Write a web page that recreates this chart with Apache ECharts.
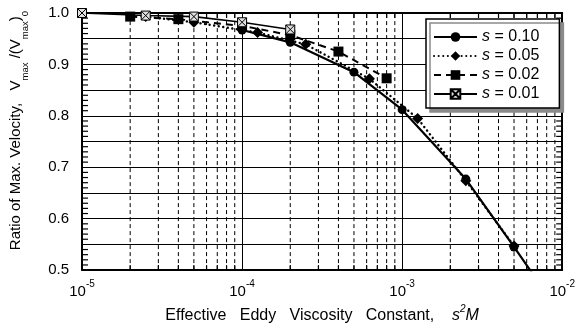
<!DOCTYPE html>
<html>
<head>
<meta charset="utf-8">
<script src="https://cdn.jsdelivr.net/npm/echarts@6/dist/echarts.min.js"></script>
<style>
  html, body { margin: 0; padding: 0; background: #fff; }
  #chart { width: 578px; height: 329px; }
</style>
</head>
<body>
<div id="chart"></div>
<script>
// Ratio of maximum velocity vs. effective eddy viscosity constant s^2 M
const seriesNames = ['0.10', '0.05', '0.02', '0.01'];

// s = 0.10
const xS010 = [1e-4, 2e-4, 5e-4, 1e-3, 2.5e-3, 5e-3, 1e-2];
const yS010 = [0.967, 0.943, 0.885, 0.812, 0.677, 0.545, 0.41];
// s = 0.05
const xS005 = [2.5e-5, 5e-5, 1.25e-4, 2.5e-4, 6.25e-4, 1.25e-3, 2.5e-3, 5e-3];
const yS005 = [0.993, 0.982, 0.962, 0.939, 0.872, 0.795, 0.674, 0.547];
// s = 0.02
const xS002 = [2e-5, 4e-5, 1e-4, 2e-4, 4e-4, 8e-4];
const yS002 = [0.993, 0.988, 0.975, 0.957, 0.925, 0.873];
// s = 0.01
const xS001 = [1e-5, 2.5e-5, 5e-5, 1e-4, 2e-4];
const yS001 = [1.0, 0.995, 0.993, 0.982, 0.968];

// axis ranges
const xMin = 1e-5, xMax = 1e-2;
const yMin = 0.5, yMax = 1.0, yStep = 0.05;

const pairs = (xs, ys) => xs.map((x, i) => [x, ys[i]]);

// dashed vertical grid lines at 2..9 within each decade
const xMinorGrid = [];
for (let d = -5; d < -2; d++) {
  for (let k = 2; k <= 9; k++) xMinorGrid.push(k * Math.pow(10, d));
}
// small y ticks every 0.01 between the 0.05 grid lines
const yMinorTicks = [];
for (let i = 1; i < 50; i++) {
  if (i % 5 !== 0) yMinorTicks.push(+(yMin + i * 0.01).toFixed(2));
}

const boxX = 'path://M0,0H10V10H0ZM0,0L10,10M10,0L0,10';
const font = 'Liberation Sans, Arial, sans-serif';

function seg(x1, y1, x2, y2, dash) {
  const style = { stroke: '#000', fill: null, lineWidth: 1 };
  if (dash) style.lineDash = dash;
  return { type: 'line', shape: { x1: x1, y1: y1, x2: x2, y2: y2 }, style: style };
}
// solid tick drawn as a thin filled bar
function bar(x, y, w, h) {
  return { type: 'rect', shape: { x: x, y: y, width: w, height: h }, style: { fill: '#000' } };
}

const chart = echarts.init(document.getElementById('chart'), null, { renderer: 'canvas' });

chart.setOption({
  animation: false,
  backgroundColor: '#fff',
  grid: { left: 81, right: 13, top: 13, bottom: 58, show: false },
  legend: {
    data: seriesNames,
    orient: 'vertical',
    left: 426,
    top: 19,
    itemWidth: 43,
    itemHeight: 12,
    itemGap: 3,
    padding: [10, 20, 6, 7],
    backgroundColor: '#fff',
    borderColor: '#000',
    borderWidth: 1.5,
    borderRadius: 0,
    shadowColor: '#8a8a8a',
    shadowOffsetX: 4,
    shadowOffsetY: 4,
    shadowBlur: 0,
    formatter: name => '{i|s}{t| = ' + name + '}',
    textStyle: {
      fontFamily: font,
      fontSize: 16,
      lineHeight: 15,
      color: '#000',
      rich: {
        i: { fontFamily: font, fontSize: 16, fontStyle: 'italic', color: '#000', lineHeight: 15 },
        t: { fontFamily: font, fontSize: 16, color: '#000', lineHeight: 15 }
      }
    }
  },
  xAxis: [
    {
      type: 'log',
      logBase: 10,
      min: xMin,
      max: xMax,
      position: 'bottom',
      axisLine: { show: true, lineStyle: { color: '#000', width: 2 } },
      axisTick: { show: false },
      splitLine: { show: true, lineStyle: { color: '#000', width: 1 } },
      axisLabel: {
        margin: 9,
        formatter: v => '{b|10}{s|' + Math.round(Math.log10(v)) + '}',
        rich: {
          b: { fontFamily: font, fontSize: 15, color: '#000', lineHeight: 20, verticalAlign: 'bottom' },
          s: { fontFamily: font, fontSize: 10, color: '#000', lineHeight: 20, verticalAlign: 'top' }
        }
      },
      name: '{t|Effective   Eddy   Viscosity   Constant,    }{i|s}{sup|2}{i|M}',
      nameLocation: 'middle',
      nameGap: 27,
      nameTextStyle: {
        rich: {
          t: { fontFamily: font, fontSize: 16, color: '#000', lineHeight: 20, verticalAlign: 'bottom' },
          i: { fontFamily: font, fontSize: 16, fontStyle: 'italic', color: '#000', lineHeight: 20, verticalAlign: 'bottom' },
          sup: { fontFamily: font, fontSize: 10, fontStyle: 'italic', color: '#000', lineHeight: 20, verticalAlign: 'top' }
        }
      }
    },
    {
      type: 'log',
      logBase: 10,
      min: xMin,
      max: xMax,
      position: 'top',
      axisLine: { show: true, lineStyle: { color: '#000', width: 2 } },
      axisTick: { show: false },
      axisLabel: { show: false },
      splitLine: { show: false }
    }
  ],
  yAxis: [
    {
      type: 'value',
      min: yMin,
      max: yMax,
      interval: yStep,
      position: 'left',
      axisLine: { show: true, lineStyle: { color: '#000', width: 2 } },
      axisTick: { show: false },
      splitLine: { show: true, lineStyle: { color: '#000', width: 1 } },
      axisLabel: {
        margin: 13,
        fontFamily: font,
        fontSize: 15,
        color: '#000',
        formatter: v => Math.abs(v * 10 - Math.round(v * 10)) < 1e-6 ? v.toFixed(1) : ''
      },
      name: '{t|Ratio of Max. Velocity,   V}{sub|max}{t| /(V}{sub|max}{t|)}{sub|0}',
      nameLocation: 'middle',
      nameRotate: 90,
      nameGap: 52,
      nameTextStyle: {
        padding: [0, 0, 0, 22],
        rich: {
          t: { fontFamily: font, fontSize: 15, color: '#000', lineHeight: 22, verticalAlign: 'top' },
          sub: { fontFamily: font, fontSize: 9.5, color: '#000', lineHeight: 22, verticalAlign: 'bottom' }
        }
      }
    },
    {
      type: 'value',
      min: yMin,
      max: yMax,
      interval: yStep,
      position: 'right',
      axisLine: { show: true, lineStyle: { color: '#000', width: 2 } },
      axisTick: { show: false },
      splitLine: { show: false },
      axisLabel: { show: false }
    }
  ],
  series: [
    {
      // dashed 2..9 vertical grid lines with short ticks at top and bottom;
      // the first item also carries the 0.01 ticks on the left and right frame
      type: 'custom',
      z: 3,
      silent: true,
      clip: false,
      data: xMinorGrid.map(v => [v, yMin]),
      encode: { x: 0, y: 1 },
      renderItem: (params, api) => {
        const v = api.value(0);
        const p0 = api.coord([v, yMin]);
        const p1 = api.coord([v, yMax]);
        const children = [
          seg(p0[0], p0[1], p1[0], p1[1], [4, 3]),
          bar(p0[0] - 0.6, p0[1] - 5, 1.2, 5),
          bar(p1[0] - 0.6, p1[1], 1.2, 5)
        ];
        if (params.dataIndex === 0) {
          const cs = params.coordSys;
          const left = cs.x;
          const right = cs.x + cs.width;
          yMinorTicks.forEach(t => {
            const yPx = api.coord([v, t])[1];
            children.push(bar(left, yPx - 0.6, 6, 1.2));
            children.push(bar(right - 6, yPx - 0.6, 6, 1.2));
          });
        }
        return { type: 'group', children: children };
      }
    },
    {
      name: '0.10',
      type: 'line',
      z: 4,
      data: pairs(xS010, yS010),
      symbol: 'circle',
      symbolSize: 9,
      itemStyle: { color: '#000' },
      lineStyle: { color: '#000', width: 2.2, type: 'solid' }
    },
    {
      name: '0.05',
      type: 'line',
      z: 4,
      data: pairs(xS005, yS005),
      symbol: 'diamond',
      symbolSize: 11,
      itemStyle: { color: '#000' },
      lineStyle: { color: '#000', width: 2.4, type: [0.1, 4.5], cap: 'round' }
    },
    {
      name: '0.02',
      type: 'line',
      z: 4,
      data: pairs(xS002, yS002),
      symbol: 'rect',
      symbolSize: 10,
      itemStyle: { color: '#000' },
      lineStyle: { color: '#000', width: 2, type: [7, 5] }
    },
    {
      name: '0.01',
      type: 'line',
      z: 4,
      data: pairs(xS001, yS001),
      symbol: boxX,
      symbolSize: 9,
      itemStyle: { color: '#e0e0e0', borderColor: '#000', borderWidth: 1 },
      lineStyle: { color: '#000', width: 1.6, type: 'solid' }
    }
  ]
});
</script>
</body>
</html>
